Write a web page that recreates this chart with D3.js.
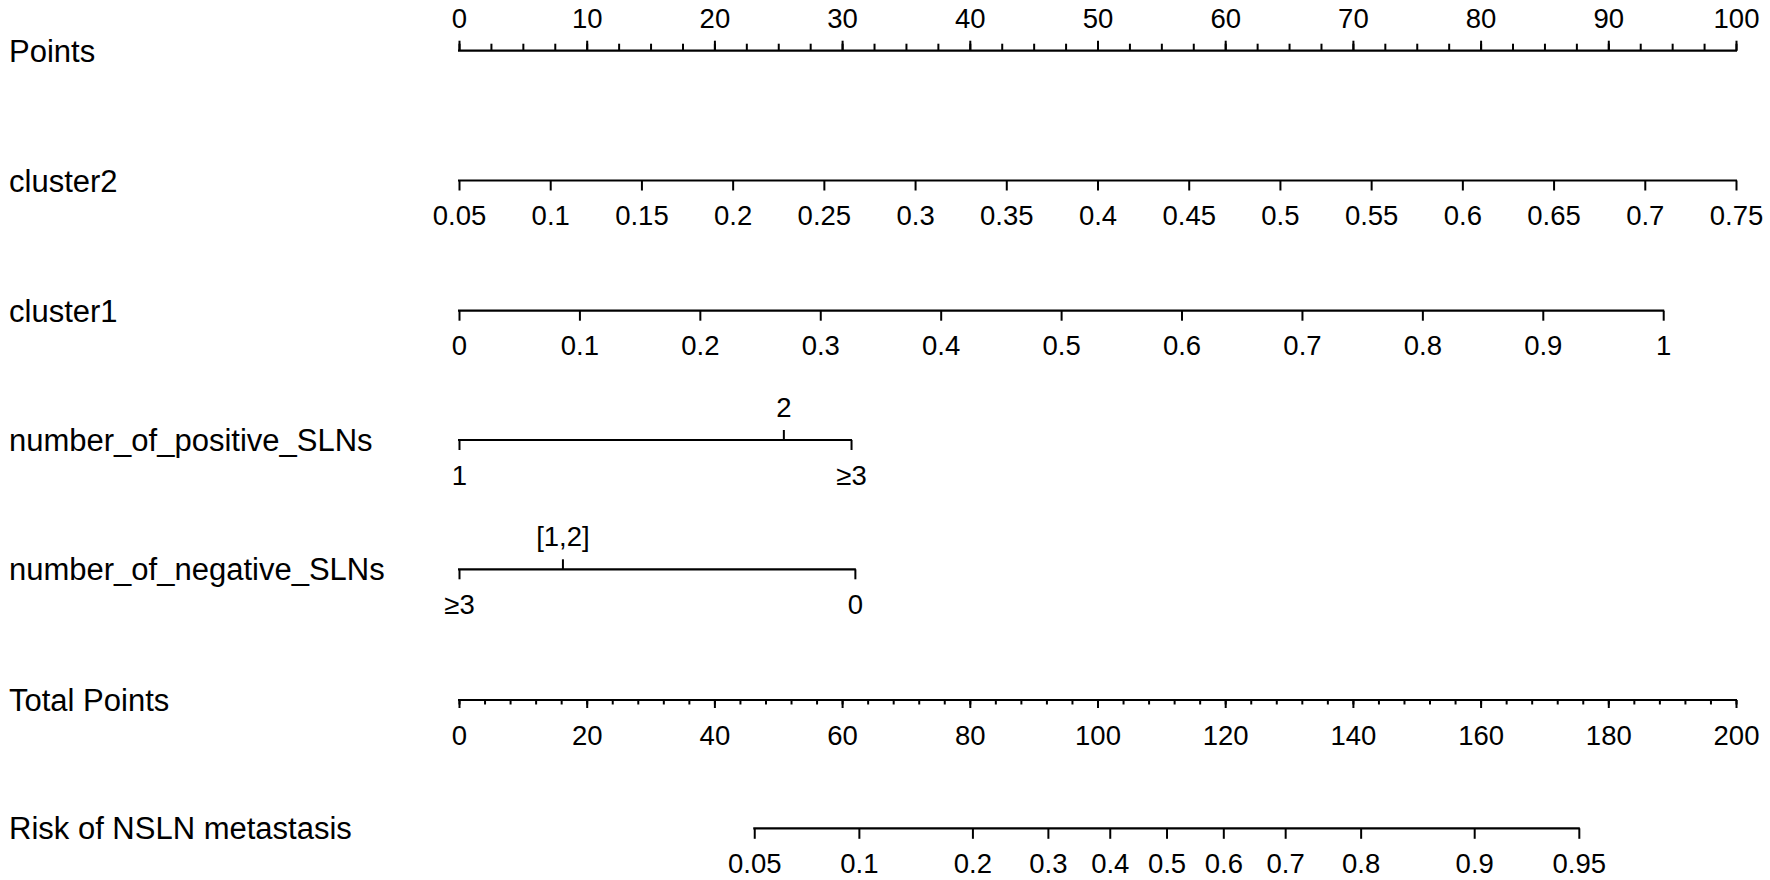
<!DOCTYPE html>
<html><head><meta charset="utf-8">
<script src="https://cdn.jsdelivr.net/npm/d3@7"></script>
<style>
body{margin:0;background:#fff}
text{font-family:"Liberation Sans",Arial,sans-serif;fill:#000}
.lab{font-size:31px}
.tk text{font-size:27.5px}
</style>
</head><body>
<svg id="chart" width="1770" height="880"></svg>
<script>
// ---------------- data ----------------
const variableNames = ["Points","cluster2","cluster1","number_of_positive_SLNs","number_of_negative_SLNs","Total Points","Risk of NSLN metastasis"];
const pointsTicks = [0,10,20,30,40,50,60,70,80,90,100];
const pointsMinorStep = 2.5;
const cluster2Ticks = [0.05,0.1,0.15,0.2,0.25,0.3,0.35,0.4,0.45,0.5,0.55,0.6,0.65,0.7,0.75];
const cluster2Range = [0.05,0.75];
const cluster2PointsRange = [0,100];
const cluster1Ticks = [0,0.1,0.2,0.3,0.4,0.5,0.6,0.7,0.8,0.9,1];
const cluster1Range = [0,1];
const cluster1PointsRange = [0,94.3];
const positiveLevels = ["1","2","≥3"];
const positivePoints = [0,25.4,30.7];
const negativeLevels = ["≥3","[1,2]","0"];
const negativePoints = [0,8.1,31.0];
const totalTicks = [0,20,40,60,80,100,120,140,160,180,200];
const totalMinorStep = 4;
const riskTicks = [0.05,0.1,0.2,0.3,0.4,0.5,0.6,0.7,0.8,0.9,0.95];
const riskIntercept = -5.053;   // logit(risk) = intercept + slope * totalPoints
const riskSlope = 0.0456;

// ---------------- layout ----------------
const X0 = 459, X1 = 1736;
const rowY = [50.7, 180.5, 310.7, 440, 569.3, 700, 828.3];
const LABEL_X = 9;
const BELOW = 44.5, ABOVE = -23;

const svg = d3.select("#chart");
svg.append("rect").attr("width",1770).attr("height",880).attr("fill","#fff");

const pointsScale = d3.scaleLinear().domain([0,100]).range([X0,X1]);
const totalScale = d3.scaleLinear().domain([0,200]).range([X0,X1]);

// variable labels
variableNames.forEach((name,i)=>{
  svg.append("text").attr("class","lab")
    .attr("x",LABEL_X).attr("y",rowY[i]+11).text(name);
});

function fmt(v){ return String(+v.toFixed(2)); }

function drawAxis(y, scale, ticks, format, orient, size, labels, lineExtent){
  const ax = (orient==="top" ? d3.axisTop(scale) : d3.axisBottom(scale))
    .tickValues(ticks).tickSize(size).tickSizeOuter(0)
    .tickFormat(labels ? format : ()=> "");
  const g = svg.append("g").attr("class","tk").attr("transform",`translate(0,${y})`).call(ax);
  g.select(".domain").remove();
  g.selectAll(".tick line").attr("stroke","#000").attr("stroke-width",2);
  g.selectAll(".tick text").attr("y", orient==="top" ? ABOVE : BELOW).attr("dy",null).attr("fill","#000");
  if(lineExtent){
    svg.append("line").attr("x1",lineExtent[0]).attr("x2",lineExtent[1])
      .attr("y1",y).attr("y2",y).attr("stroke","#000").attr("stroke-width",2.2);
  }
  return g;
}

// Points
const pointsMinor = d3.range(0,100+1e-9,pointsMinorStep);
drawAxis(rowY[0], pointsScale, pointsMinor, null, "top", 7, false, [X0-1,X1+1]);
drawAxis(rowY[0], pointsScale, pointsTicks, d=>String(d), "top", 10, true, null);

// cluster2
const c2Scale = d3.scaleLinear().domain(cluster2Range)
  .range(cluster2PointsRange.map(p=>pointsScale(p)));
drawAxis(rowY[1], c2Scale, cluster2Ticks, fmt, "bottom", 10, true, [c2Scale(cluster2Range[0])-1, c2Scale(cluster2Range[1])+1]);

// cluster1
const c1Scale = d3.scaleLinear().domain(cluster1Range)
  .range(cluster1PointsRange.map(p=>pointsScale(p)));
drawAxis(rowY[2], c1Scale, cluster1Ticks, fmt, "bottom", 10, true, [c1Scale(cluster1Range[0])-1, c1Scale(cluster1Range[1])+1]);

// categorical rows
function drawCategorical(y, levels, pts){
  const idx = levels.map((_,i)=>i);
  const ends = idx.filter(i=> i===0 || i===levels.length-1);
  const mids = idx.filter(i=> !(i===0 || i===levels.length-1));
  const sc = d3.scaleLinear().domain([0,100]).range([X0,X1]);
  const lo = d3.min(pts), hi = d3.max(pts);
  drawAxis(y, sc, ends.map(i=>pts[i]), v=>levels[pts.indexOf(v)], "bottom", 10, true, [sc(lo)-1, sc(hi)+1]);
  drawAxis(y, sc, mids.map(i=>pts[i]), v=>levels[pts.indexOf(v)], "top", 10, true, null);
}
drawCategorical(rowY[3], positiveLevels, positivePoints);
drawCategorical(rowY[4], negativeLevels, negativePoints);

// Total points
const totalMinor = d3.range(0,200+1e-9,totalMinorStep);
drawAxis(rowY[5], totalScale, totalMinor, null, "bottom", 4.5, false, [X0-1,X1+1]);
drawAxis(rowY[5], totalScale, totalTicks, d=>String(d), "bottom", 8, true, null);

// Risk
const riskToTotal = p => (Math.log(p/(1-p)) - riskIntercept)/riskSlope;
const riskTP = riskTicks.map(riskToTotal);
drawAxis(rowY[6], totalScale, riskTP, v=>fmt(riskTicks[riskTP.indexOf(v)]), "bottom", 10.5, true,
  [totalScale(d3.min(riskTP))-1, totalScale(d3.max(riskTP))+1]);
</script>
</body></html>
